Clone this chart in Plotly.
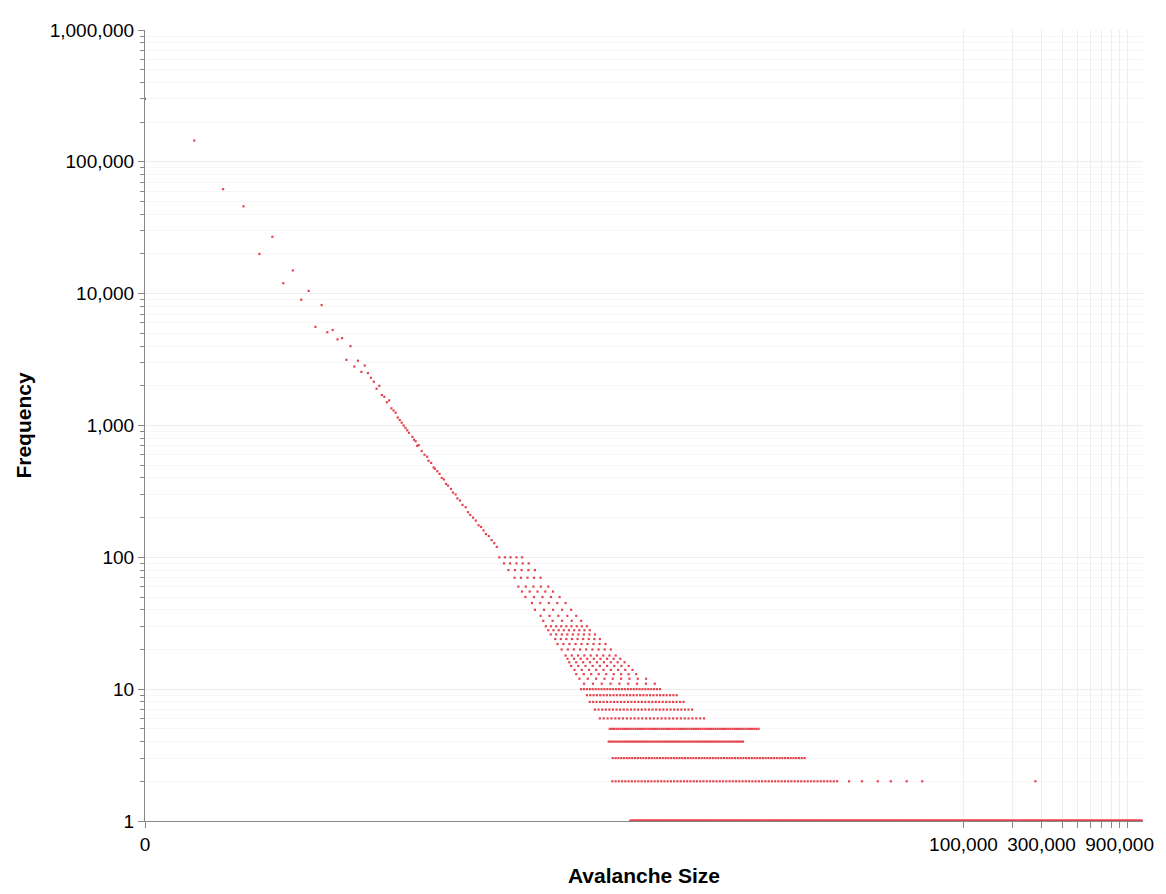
import numpy as np
import plotly.graph_objects as go

# Individual readings (avalanche size, frequency)
small_sizes = [0, 1, 2, 3, 4, 5, 6, 7, 8, 9, 10, 11, 12, 13, 14, 15, 16, 17, 18, 19, 20, 21, 22,
               23, 24, 25, 26, 27, 28, 29, 30, 31, 32, 33, 34, 35, 36, 37, 38, 39, 40, 42, 43, 44, 45,
               46, 48, 50, 52, 53, 55, 57, 58, 60, 62, 64, 66, 68, 70, 73, 75, 78, 80, 83, 86, 90,
               93, 96, 100, 104, 108, 112, 116, 120, 125, 130, 135, 140]
small_freqs = [300000, 145000, 62000, 46000, 20000, 27000, 12000, 15000, 9000, 10500, 5600, 8200,
               5100, 5300, 4500, 4600, 3150, 4000, 2800, 3100, 2550, 2850, 2500,
               2300, 2150, 1900, 2000, 1700, 1650, 1500, 1550, 1350, 1300, 1250, 1150, 1100, 1050,
               1000, 960, 920, 880, 820, 780, 760, 700, 710, 640, 600, 580, 540, 520, 480, 470, 450,
               430, 400, 390, 360, 350, 330, 310, 300, 280, 270, 250, 240, 220, 210, 200, 190, 175,
               170, 160, 150, 145, 135, 128, 120]

# Horizontal rows: frequency, smallest size, largest size
row_freqs = [100, 90, 80, 70, 60, 55, 50, 45, 40, 36, 33, 30, 28, 26, 24, 22, 20, 18, 17, 16,
             15, 14, 13, 12, 11, 10, 9, 8, 7, 6, 5, 4, 3, 2, 1]
row_lo = [145, 155, 165, 180, 190, 200, 210, 230, 240, 260, 270, 280, 290, 300, 320, 330, 350,
          370, 380, 390, 400, 420, 430, 450, 480, 460, 500, 520, 560, 600, 690, 680, 720, 715, 920]
row_hi = [200, 220, 240, 260, 290, 310, 340, 370, 400, 430, 460, 500, 520, 560, 600, 650, 700,
          750, 800, 850, 900, 950, 1000, 1150, 1300, 1400, 1770, 1950, 2200, 2600, 5600, 4500,
          10700, 16900, 1250000]
row_outliers_x = [20000, 24000, 30000, 36000, 45000, 56000, 275000]
row_outliers_y = [2, 2, 2, 2, 2, 2, 2]

xs = list(small_sizes)
ys = list(small_freqs)
for f, lo, hi in zip(row_freqs, row_lo, row_hi):
    if f == 1:
        n = 3000
    elif f > 30:
        n = 5
    elif f > 10:
        n = 9
    elif f > 5:
        n = 28
    else:
        n = 70
    pts = np.unique(np.round(np.geomspace(lo, hi, n)))
    xs += list(pts)
    ys += [f] * len(pts)
xs += row_outliers_x
ys += row_outliers_y

xs = np.array(xs, dtype=float)
tx = np.log1p(xs)  # symlog transform

RED = "#e4444f"
fig = go.Figure(go.Scatter(x=tx, y=ys, mode="markers",
                           marker=dict(symbol="square", size=2.2, color=RED, line=dict(width=0)),
                           hoverinfo="skip"))

tick_sizes = [0] + [k * 100000 for k in range(1, 11)]
tick_text = ["0", "100,000", "", "300,000", "", "", "", "", "", "900,000", ""]
GRID = "#eeeeee"
AX = "#888888"
fig.update_layout(
    width=1166, height=894, plot_bgcolor="white", paper_bgcolor="white",
    margin=dict(l=137, r=31, t=12, b=81), showlegend=False,
    font=dict(family="Liberation Sans, Arial, sans-serif", size=19, color="black"),
    xaxis=dict(range=[0, np.log1p(1.25e6)], tickvals=list(np.log1p(tick_sizes)), ticktext=tick_text,
               showgrid=True, gridcolor=GRID, ticks="outside", ticklen=6, tickcolor=AX,
               showline=True, linecolor=AX, linewidth=1, zeroline=False,
               title=dict(text="<b>Avalanche Size</b>", font=dict(size=21), standoff=14)),
    yaxis=dict(type="log", range=[0, 6], tickvals=[1, 10, 100, 1000, 10000, 100000, 1000000],
               ticktext=["1", "10", "100", "1,000", "10,000", "100,000", "1,000,000"],
               showgrid=True, gridcolor=GRID, ticks="outside", ticklen=6, tickcolor=AX,
               showline=True, linecolor=AX, linewidth=1, zeroline=False,
               minor=dict(dtick="D1", ticks="outside", ticklen=4, tickcolor=AX,
                          showgrid=True, gridcolor="#f6f6f6"),
               title=dict(text="<b>Frequency</b>", font=dict(size=21), standoff=12)),
)
fig.write_html("out.html")
